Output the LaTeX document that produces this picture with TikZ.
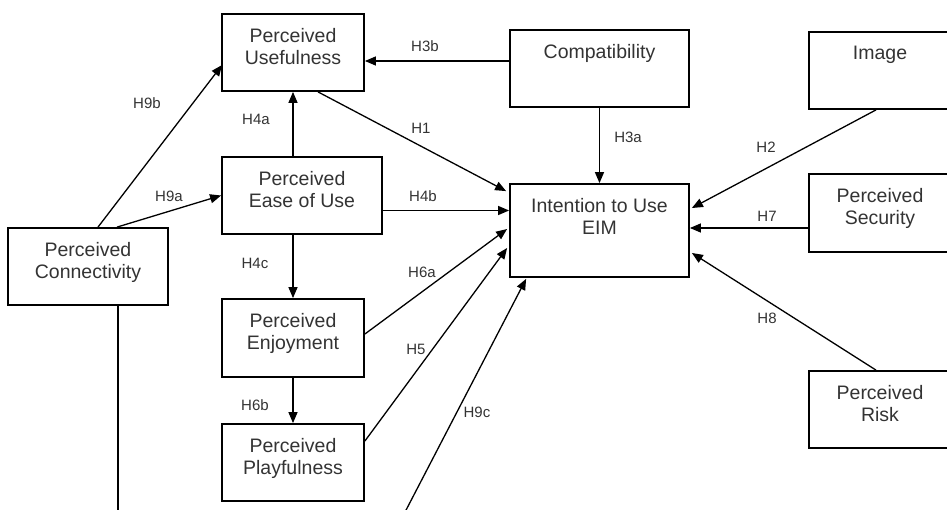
\documentclass[tikz,border=0pt]{standalone}
\usepackage{fontspec}
\setmainfont{Liberation Sans}
\usetikzlibrary{arrows.meta,calc}
\definecolor{txt}{HTML}{333333}
\tikzset{
  box/.style={draw=black, line width=1.8pt, fill=none, inner sep=0pt, minimum height=77pt},
  boxtext/.style={anchor=north, inner sep=0pt, align=center, text=txt,
    font=\fontsize{19.5pt}{22.5pt}\selectfont},
  hlab/.style={inner sep=0pt, text=txt, font=\fontsize{15pt}{17pt}\selectfont},
  conn/.style={draw=black, line width=1.3pt},
  arr/.style={conn, -{Triangle[length=11pt,width=9pt]}}
}
\begin{document}
\begin{tikzpicture}[x=1pt,y=-1pt]
\useasboundingbox (0,0) rectangle (947,510);
% boxes
\node[box, minimum width=142pt] (pu) at (293,52.5) {};
\node[box, minimum width=160pt] (peou) at (302,195.5) {};
\node[box, minimum width=160pt] (pc) at (88,266.5) {};
\node[box, minimum width=142pt, minimum height=78pt] (pe) at (293,338) {};
\node[box, minimum width=142pt] (pp) at (293,462.5) {};
\node[box, minimum width=179pt] (comp) at (599.5,68.5) {};
\node[box, minimum width=179pt, minimum height=93pt] (iu) at (599.5,230.5) {};
\node[box, minimum width=142pt] (img) at (880,70.5) {};
\node[box, minimum width=142pt, minimum height=78pt] (ps) at (880,213) {};
\node[box, minimum width=142pt] (pr) at (880,409.5) {};
% box texts
\node[boxtext] (puT) at ($(pu.north)+(0,15)$) {Perceived\\Usefulness};
\node[boxtext] (peouT) at ($(peou.north)+(0,15)$) {Perceived\\Ease of Use};
\node[boxtext] (pcT) at ($(pc.north)+(0,15)$) {Perceived\\Connectivity};
\node[boxtext] (peT) at ($(pe.north)+(0,15)$) {Perceived\\Enjoyment};
\node[boxtext] (ppT) at ($(pp.north)+(0,15)$) {Perceived\\Playfulness};
\node[boxtext] (compT) at ($(comp.north)+(0,15)$) {Compatibility};
\node[boxtext] (iuT) at ($(iu.north)+(0,15)$) {Intention to Use\\EIM};
\node[boxtext] (imgT) at ($(img.north)+(0,15)$) {Image};
\node[boxtext] (psT) at ($(ps.north)+(0,15)$) {Perceived\\Security};
\node[boxtext] (prT) at ($(pr.north)+(0,15)$) {Perceived\\Risk};
% free ends
\coordinate (c9c) at (404,514);
\coordinate (cpc) at (118,514);
% connectors
\draw[arr] ($(comp.west)+(0,-7.5)$) -- ($(pu.east)+(0,8.5)$);
\draw[arr] (pu.south |- peou.north) -- (pu.south);
\draw[arr] ($(pu.south)+(25,0)$) -- ($(iu.north west)+(-3,8)$);
\draw[arr] ($(peou.east)+(0,15)$) -- ($(iu.west)+(0,-20)$);
\draw[arr] ($(pe.east)+(0,-4)$) -- ($(iu.west)+(-2,-1.5)$);
\draw[arr] ($(pp.east)+(0,-21.5)$) -- ($(iu.west)+(-2,17.5)$);
\draw[arr] (c9c) -- ($(iu.south west)+(17,1)$);
\draw[arr] (pe.north |- peou.south) -- (pe.north);
\draw[arr] (pe.south) -- (pp.north);
\draw[arr] ($(pc.north)+(10,0)$) -- ($(pu.west)+(1,12.5)$);
\draw[arr] ($(pc.north)+(29,0)$) -- (peou.west);
\draw[conn] ($(pc.south)+(30,0)$) -- (cpc);
\draw[arr] (comp.south) -- (iu.north);
\draw[arr] ($(img.south)+(-4,0)$) -- ($(iu.east)+(2,-22.5)$);
\draw[arr] ($(ps.west)+(0,15)$) -- ($(iu.east)+(0,-2.5)$);
\draw[arr] ($(pr.north)+(-4,0)$) -- ($(iu.east)+(2,22.5)$);
% labels
\node[hlab] (l3b) at (425,46) {H3b};
\node[hlab] (l9b) at (147,103) {H9b};
\node[hlab] (l4a) at (256,119) {H4a};
\node[hlab] (l1) at (421,128) {H1};
\node[hlab] (l9a) at (169,196) {H9a};
\node[hlab] (l4b) at (423,196) {H4b};
\node[hlab] (l3a) at (628,137) {H3a};
\node[hlab] (l2) at (766,147) {H2};
\node[hlab] (l7) at (767,216) {H7};
\node[hlab] (l4c) at (255,263) {H4c};
\node[hlab] (l6a) at (422,272) {H6a};
\node[hlab] (l5) at (416,349) {H5};
\node[hlab] (l6b) at (255,405) {H6b};
\node[hlab] (l9c) at (477,412) {H9c};
\node[hlab] (l8) at (767,318) {H8};
\end{tikzpicture}
\end{document}
